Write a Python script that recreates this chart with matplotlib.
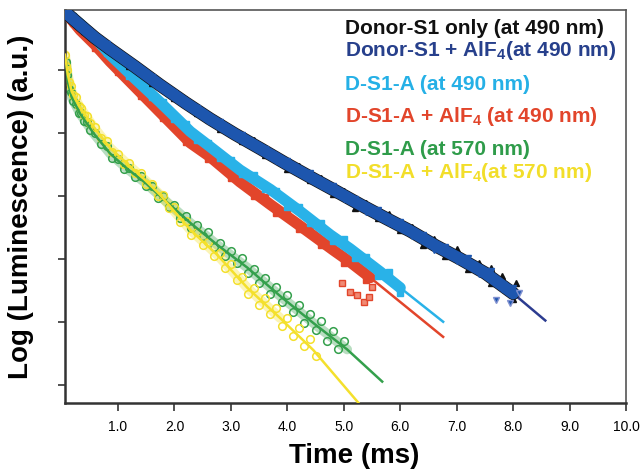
import matplotlib.pyplot as plt

plt.rcParams['font.family'] = 'Liberation Sans'
plt.rcParams['mathtext.fontset'] = 'custom'
plt.rcParams['mathtext.rm'] = 'Liberation Sans:bold'
plt.rcParams['mathtext.it'] = 'Liberation Sans:bold'
plt.rcParams['mathtext.bf'] = 'Liberation Sans:bold'

# time grid (ms) shared by the 490 nm curves
t490 = [0.06, 0.2, 0.4, 0.6, 0.8, 1.0, 1.2, 1.4, 1.6, 1.8, 2.0, 2.2, 2.4, 2.6, 2.8, 3.0,
        3.2, 3.4, 3.6, 3.8, 4.0, 4.2, 4.4, 4.6, 4.8, 5.0, 5.2, 5.4, 5.6, 5.8, 6.0, 6.2,
        6.4, 6.6, 6.8, 7.0, 7.2, 7.4, 7.6, 7.8, 8.0]

donor_only = [5.92, 5.84, 5.61, 5.55, 5.34, 5.30, 5.06, 5.02, 4.79, 4.77, 4.56, 4.54, 4.31,
              4.28, 4.06, 4.08, 3.87, 3.89, 3.65, 3.65, 3.42, 3.47, 3.25, 3.28, 3.03, 3.07,
              2.81, 2.89, 2.65, 2.71, 2.45, 2.50, 2.22, 2.31, 2.05, 2.13, 1.84, 1.94, 1.62,
              1.72, 1.36]
donor_alf4 = [5.92, 5.79, 5.68, 5.47, 5.41, 5.22, 5.14, 4.94, 4.88, 4.69, 4.64, 4.43, 4.39,
              4.19, 4.17, 3.99, 3.96, 3.77, 3.75, 3.55, 3.55, 3.36, 3.36, 3.15, 3.15, 2.95,
              2.95, 2.75, 2.78, 2.57, 2.59, 2.36, 2.38, 2.14, 2.19, 1.97, 2.01, 1.76, 1.81,
              1.52, 1.54]
donor_only_extra_t = [7.0, 7.6, 8.05]
donor_only_extra = [2.15, 1.85, 1.62]
donor_alf4_extra_t = [7.7, 7.95, 8.1]
donor_alf4_extra = [1.35, 1.30, 1.45]

dsa_490 = [5.92, 5.85, 5.64, 5.54, 5.26, 5.15, 4.90, 4.82, 4.57, 4.49, 4.22, 4.14, 3.89, 3.84,
           3.60, 3.57, 3.34, 3.33, 3.10, 3.08, 2.83, 2.83, 2.57, 2.57, 2.29, 2.31, 2.02, 2.03,
           1.73, 1.79, 1.46]
dsa_alf4_490 = [5.92, 5.74, 5.60, 5.35, 5.23, 4.97, 4.86, 4.59, 4.50, 4.24, 4.15, 3.86, 3.81,
                3.58, 3.54, 3.29, 3.25, 3.00, 2.98, 2.73, 2.73, 2.47, 2.48, 2.22, 2.23, 1.94,
                1.96, 1.66]
dsa_alf4_490_extra_t = [4.97, 5.11, 5.24, 5.35, 5.45, 5.5]
dsa_alf4_490_extra = [1.62, 1.48, 1.43, 1.32, 1.40, 1.55]

t570_green = [0.08, 0.10, 0.13, 0.16, 0.20, 0.25, 0.30, 0.35, 0.40, 0.45, 0.50, 0.6, 0.7, 0.8,
              0.9, 1.0, 1.1, 1.2, 1.3, 1.4, 1.5, 1.6, 1.7, 1.8, 1.9, 2.0, 2.1, 2.2, 2.3, 2.4,
              2.5, 2.6, 2.7, 2.8, 2.9, 3.0, 3.1, 3.2, 3.3, 3.4, 3.5, 3.6, 3.7, 3.8, 3.9, 4.0,
              4.1, 4.2, 4.3, 4.4, 4.5, 4.6, 4.7, 4.8, 4.9, 5.0]
dsa_570 = [5.13, 4.92, 4.70, 4.65, 4.50, 4.46, 4.32, 4.31, 4.19, 4.17, 4.04, 3.99, 3.82, 3.79,
           3.60, 3.59, 3.43, 3.44, 3.30, 3.32, 3.15, 3.15, 2.97, 3.00, 2.83, 2.86, 2.65, 2.68,
           2.49, 2.54, 2.36, 2.42, 2.19, 2.25, 2.05, 2.13, 1.93, 2.01, 1.77, 1.84, 1.61, 1.70,
           1.44, 1.55, 1.32, 1.42, 1.15, 1.27, 0.98, 1.13, 0.87, 1.01, 0.70, 0.86, 0.57, 0.69]

t570_yellow = [0.06, 0.08, 0.10, 0.13, 0.16, 0.20, 0.25, 0.30, 0.35, 0.40, 0.45, 0.50, 0.6,
               0.7, 0.8, 0.9, 1.0, 1.1, 1.2, 1.3, 1.4, 1.5, 1.6, 1.7, 1.8, 1.9, 2.0, 2.1, 2.2,
               2.3, 2.4, 2.5, 2.6, 2.7, 2.8, 2.9, 3.0, 3.1, 3.2, 3.3, 3.4, 3.5, 3.6, 3.7, 3.8,
               3.9, 4.0, 4.1, 4.2, 4.3, 4.4, 4.5]
dsa_alf4_570 = [5.24, 5.06, 4.99, 4.80, 4.74, 4.60, 4.57, 4.42, 4.40, 4.28, 4.27, 4.15, 4.09,
                3.91, 3.87, 3.69, 3.67, 3.51, 3.52, 3.36, 3.36, 3.18, 3.18, 2.99, 3.01, 2.80,
                2.82, 2.59, 2.60, 2.37, 2.42, 2.22, 2.27, 2.04, 2.09, 1.85, 1.92, 1.66, 1.71,
                1.44, 1.53, 1.27, 1.37, 1.12, 1.22, 0.94, 1.06, 0.77, 0.90, 0.61, 0.72, 0.45]

# fitted decays (last point of each is where the drawn fit line stops)
donor_fit_t = [0.06, 0.34, 0.59, 0.86, 1.30, 1.74, 2.19, 2.63, 3.07, 3.52, 3.96, 4.40, 4.85,
               5.29, 5.73, 6.18, 6.62, 7.06, 7.51, 8.00, 8.57]
donor_fit = [5.92, 5.70, 5.51, 5.33, 5.05, 4.76, 4.48, 4.22, 3.98, 3.75, 3.52, 3.30, 3.08,
             2.86, 2.65, 2.44, 2.21, 2.00, 1.77, 1.45, 1.02]
sky_fit_t = [0.06, 0.33, 0.59, 0.86, 1.30, 1.74, 2.28, 2.63, 3.16, 3.70, 4.23, 4.76, 5.11,
             5.65, 6.00, 6.76]
sky_fit = [5.92, 5.73, 5.51, 5.24, 4.86, 4.49, 4.02, 3.78, 3.41, 3.10, 2.75, 2.38, 2.16,
           1.79, 1.54, 1.00]
red_fit_t = [0.06, 0.33, 0.59, 0.86, 1.30, 1.74, 2.28, 2.63, 3.16, 3.70, 4.23, 4.81, 5.11,
             5.47, 6.76]
red_fit = [5.92, 5.63, 5.40, 5.13, 4.73, 4.33, 3.84, 3.62, 3.22, 2.86, 2.52, 2.14, 1.95,
           1.70, 0.76]
green_fit_t = [0.08, 0.11, 0.18, 0.33, 0.56, 0.86, 1.16, 1.48, 1.74, 2.28, 2.76, 3.29, 3.87,
               4.46, 5.06, 5.68]
green_fit = [5.13, 4.81, 4.56, 4.30, 4.00, 3.67, 3.43, 3.21, 3.00, 2.57, 2.22, 1.86, 1.41,
             0.98, 0.56, 0.05]
yellow_fit_t = [0.06, 0.11, 0.18, 0.33, 0.56, 0.86, 1.16, 1.48, 1.74, 2.28, 2.76, 3.29, 3.87,
                4.46, 5.29]
yellow_fit = [5.24, 4.92, 4.65, 4.40, 4.10, 3.76, 3.51, 3.25, 3.02, 2.46, 2.06, 1.54, 1.06,
              0.55, -0.32]

xticks = [1, 2, 3, 4, 5, 6, 7, 8, 9, 10]
xtick_labels = ['1.0', '2.0', '3.0', '4.0', '5.0', '6.0', '7.0', '8.0', '9.0', '10.0']
yticks = [0, 1, 2, 3, 4, 5]

legend_labels = ['Donor-S1 only (at 490 nm)',
                 'Donor-S1 + AlF$_4$(at 490 nm)',
                 'D-S1-A (at 490 nm)',
                 'D-S1-A + AlF$_4$ (at 490 nm)',
                 'D-S1-A (at 570 nm)',
                 'D-S1-A + AlF$_4$(at 570 nm)']
legend_colors = ['#111111', '#27408c', '#25b0e6', '#e2452b', '#2f9c4a', '#f2de2a']

c_black = '#111111'
c_blue = '#1d56ae'
c_navy = '#2c3c90'
c_sky = '#29b2e8'
c_red = '#e2452b'
c_green = '#34a04c'
c_yellow = '#f4e02c'

W, H = 643, 472
fig = plt.figure(figsize=(W / 100, H / 100), dpi=100)
ax = fig.add_axes([65 / W, 1 - 403 / H, (626 - 65) / W, (403 - 10) / H])

# 570 nm curves: faint band, open circles, fit line
ax.plot(green_fit_t[:-1], green_fit[:-1], '-', color=c_green, lw=7, alpha=0.35,
        solid_capstyle='round', zorder=1)
ax.plot(t570_green, dsa_570, 'o', ms=5.5, mfc='none', mec=c_green, mew=1.1, zorder=2)
ax.plot(green_fit_t, green_fit, '-', color=c_green, lw=1.8, zorder=3)
ax.plot(yellow_fit_t[:-2], yellow_fit[:-2], '-', color=c_yellow, lw=7, alpha=0.35,
        solid_capstyle='round', zorder=1)
ax.plot(t570_yellow, dsa_alf4_570, 'o', ms=5.5, mfc='none', mec=c_yellow, mew=1.1, zorder=2)
ax.plot(yellow_fit_t, yellow_fit, '-', color=c_yellow, lw=1.8, zorder=3)

# D-S1-A at 490 nm: dense band + square markers, fit line beyond data
ax.plot(red_fit_t, red_fit, '-', color=c_red, lw=1.8, zorder=2)
ax.plot(red_fit_t[:-1], red_fit[:-1], '-', color=c_red, lw=8, solid_capstyle='round', zorder=3)
ax.plot(t490[:len(dsa_alf4_490)], dsa_alf4_490, 's', color=c_red, ms=4.5, zorder=3)
ax.plot(dsa_alf4_490_extra_t, dsa_alf4_490_extra, 's', color=c_red, ms=4.5, mfc='#f08a74',
        mew=1.0, zorder=3)
ax.plot(sky_fit_t, sky_fit, '-', color=c_sky, lw=1.8, zorder=2)
ax.plot(sky_fit_t[:-1], sky_fit[:-1], '-', color=c_sky, lw=8, solid_capstyle='round', zorder=4)
ax.plot(t490[:len(dsa_490)], dsa_490, 's', color=c_sky, ms=4.5, zorder=4)

# donor curves
ax.plot(donor_fit_t, donor_fit, '-', color=c_navy, lw=1.8, zorder=4)
ax.plot(donor_fit_t[:-1], donor_fit[:-1], '-', color=c_black, lw=9.5, solid_capstyle='round',
        zorder=5)
ax.plot(t490, donor_only, '^', color=c_black, ms=5, zorder=5)
ax.plot(donor_only_extra_t, donor_only_extra, '^', color=c_black, ms=5, zorder=5)
ax.plot(donor_fit_t[:-1], donor_fit[:-1], '-', color=c_blue, lw=8.5, solid_capstyle='round',
        zorder=6)
ax.plot(t490, donor_alf4, 'v', color=c_blue, ms=4.5, zorder=6)
ax.plot(donor_alf4_extra_t, donor_alf4_extra, 'v', color=c_blue, mec='#8090d0', ms=5,
        zorder=6)

ax.set_xlim(0.06, 10.0)
ax.set_ylim(-0.29, 5.95)
ax.set_xticks(xticks)
ax.set_xticklabels(xtick_labels, fontsize=10)
ax.set_yticks(yticks)
ax.set_yticklabels([])
ax.tick_params(axis='x', direction='out', length=6, width=1.2, pad=6, colors='#333333',
               labelcolor='black')
ax.tick_params(axis='y', direction='out', length=5, width=1.2, colors='#333333')
for side in ['left', 'bottom']:
    ax.spines[side].set_linewidth(1.8)
    ax.spines[side].set_color('#333333')
for side in ['top', 'right']:
    ax.spines[side].set_linewidth(1.2)
    ax.spines[side].set_color('#555555')

baselines = [34, 56, 90, 122, 155, 178]
for lab, col, b in zip(legend_labels, legend_colors, baselines):
    fig.text(345 / W, 1 - b / H, lab, color=col, fontsize=15, fontweight='bold',
             ha='left', va='baseline')

fig.text(354 / W, 1 - 456 / H, 'Time (ms)', fontsize=20, fontweight='bold',
         ha='center', va='center')
fig.text(21 / W, 1 - 207 / H, 'Log (Luminescence) (a.u.)', fontsize=20,
         fontweight='bold', rotation=90, ha='center', va='center')

fig.savefig('out.png', dpi=100)
